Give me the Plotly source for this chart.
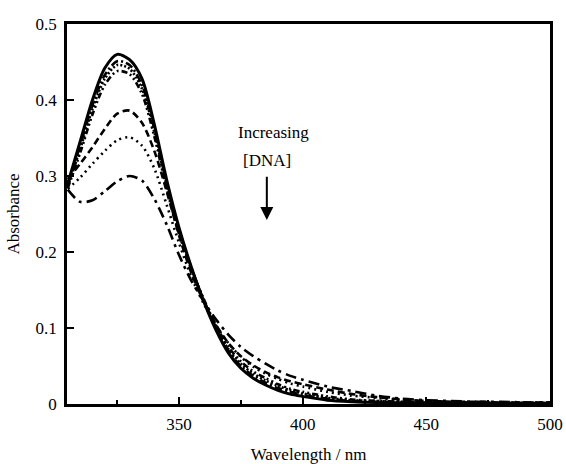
import plotly.graph_objects as go

wavelength = [305, 310, 315, 320, 325, 330, 335, 340, 345, 350, 355, 360, 365, 370, 375,
              380, 385, 390, 395, 400, 410, 420, 430, 440, 450, 460, 470, 480, 490, 500]

abs_0 = [0.290, 0.345, 0.400, 0.442, 0.460, 0.453, 0.428, 0.368, 0.295, 0.232, 0.180, 0.135, 0.097, 0.067, 0.047,
         0.034, 0.025, 0.018, 0.013, 0.010, 0.005, 0.003, 0.002, 0.0015, 0.001, 0.001, 0.001, 0.001, 0.001, 0.001]
abs_1 = [0.288, 0.340, 0.393, 0.433, 0.451, 0.446, 0.420, 0.362, 0.290, 0.229, 0.179, 0.136, 0.099, 0.070, 0.050,
         0.037, 0.028, 0.021, 0.016, 0.012, 0.007, 0.004, 0.003, 0.002, 0.002, 0.0015, 0.0015, 0.001, 0.001, 0.001]
abs_2 = [0.286, 0.335, 0.388, 0.428, 0.446, 0.441, 0.415, 0.358, 0.287, 0.227, 0.178, 0.137, 0.101, 0.072, 0.053,
         0.040, 0.031, 0.024, 0.018, 0.014, 0.008, 0.005, 0.004, 0.003, 0.002, 0.002, 0.0015, 0.0015, 0.001, 0.001]
abs_3 = [0.284, 0.330, 0.381, 0.420, 0.438, 0.434, 0.408, 0.352, 0.283, 0.224, 0.177, 0.138, 0.103, 0.075, 0.056,
         0.043, 0.034, 0.026, 0.020, 0.016, 0.010, 0.006, 0.004, 0.003, 0.002, 0.002, 0.002, 0.0015, 0.0015, 0.001]
abs_4 = [0.296, 0.316, 0.338, 0.362, 0.382, 0.386, 0.370, 0.333, 0.280, 0.222, 0.172, 0.135, 0.104, 0.080, 0.063,
         0.051, 0.042, 0.035, 0.030, 0.026, 0.019, 0.013, 0.009, 0.006, 0.004, 0.003, 0.003, 0.002, 0.002, 0.002]
abs_5 = [0.283, 0.298, 0.316, 0.333, 0.347, 0.351, 0.340, 0.310, 0.262, 0.212, 0.167, 0.132, 0.103, 0.080, 0.062,
         0.049, 0.040, 0.033, 0.027, 0.023, 0.016, 0.011, 0.008, 0.005, 0.004, 0.003, 0.002, 0.002, 0.002, 0.002]
abs_6 = [0.282, 0.266, 0.268, 0.280, 0.293, 0.300, 0.294, 0.270, 0.236, 0.196, 0.162, 0.135, 0.111, 0.091, 0.075,
         0.063, 0.053, 0.044, 0.037, 0.032, 0.023, 0.017, 0.011, 0.007, 0.005, 0.004, 0.003, 0.003, 0.002, 0.002]

series = [abs_0, abs_1, abs_2, abs_3, abs_4, abs_5, abs_6]
styles = [("solid", 3), ("8px,3px,2px,3px", 2.6), ("2px,2px", 2.6), ("6px,3px,2px,3px,2px,3px", 2.6),
          ("7px,4px", 2.6), ("2px,4px", 2.6), ("11px,5px,3px,5px", 2.6)]

fig = go.Figure()
for ys, (dash, w) in zip(series, styles):
    fig.add_trace(go.Scatter(x=wavelength, y=ys, mode="lines",
                             line=dict(color="black", width=w, dash=dash, shape="spline", smoothing=0.8),
                             showlegend=False))

font = dict(family="Liberation Serif", size=17, color="black")

fig.add_annotation(x=388.1, y=0.3566, text="Increasing", showarrow=False, font=font)
fig.add_annotation(x=385.6, y=0.321, text="[DNA]", showarrow=False, font=font)
fig.add_annotation(x=385.5, y=0.242, ax=385.5, ay=0.301, axref="x", ayref="y", text="",
                   showarrow=True, arrowhead=2, arrowsize=1.3, arrowwidth=2, arrowcolor="black")

fig.update_layout(
    width=566, height=464,
    margin=dict(l=67, r=16, t=24, b=60, autoexpand=False),
    plot_bgcolor="white", paper_bgcolor="white",
    font=font,
    xaxis=dict(range=[304.7, 500], tick0=300, dtick=50, ticks="inside", ticklen=7, tickwidth=2,
               tickcolor="black", showline=True, linewidth=2.5, linecolor="black", mirror=True,
               showgrid=False, zeroline=False, automargin=False, ticklabelstandoff=3,
               minor=dict(dtick=25, tick0=300, ticks="inside", ticklen=4, tickwidth=2, tickcolor="black",
                          showgrid=False),
               title=dict(text="Wavelength / nm", font=font, standoff=18)),
    yaxis=dict(range=[0, 0.5], dtick=0.1, ticks="inside", ticklen=7, tickwidth=2, tickcolor="black",
               showline=True, linewidth=2.5, linecolor="black", mirror=True, showgrid=False, zeroline=False,
               automargin=False, ticklabelstandoff=4,
               title=dict(text="Absorbance", font=font, standoff=12)),
)

fig.write_html("out.html", config={"displayModeBar": False},
               post_script="document.body.style.margin='0';")
